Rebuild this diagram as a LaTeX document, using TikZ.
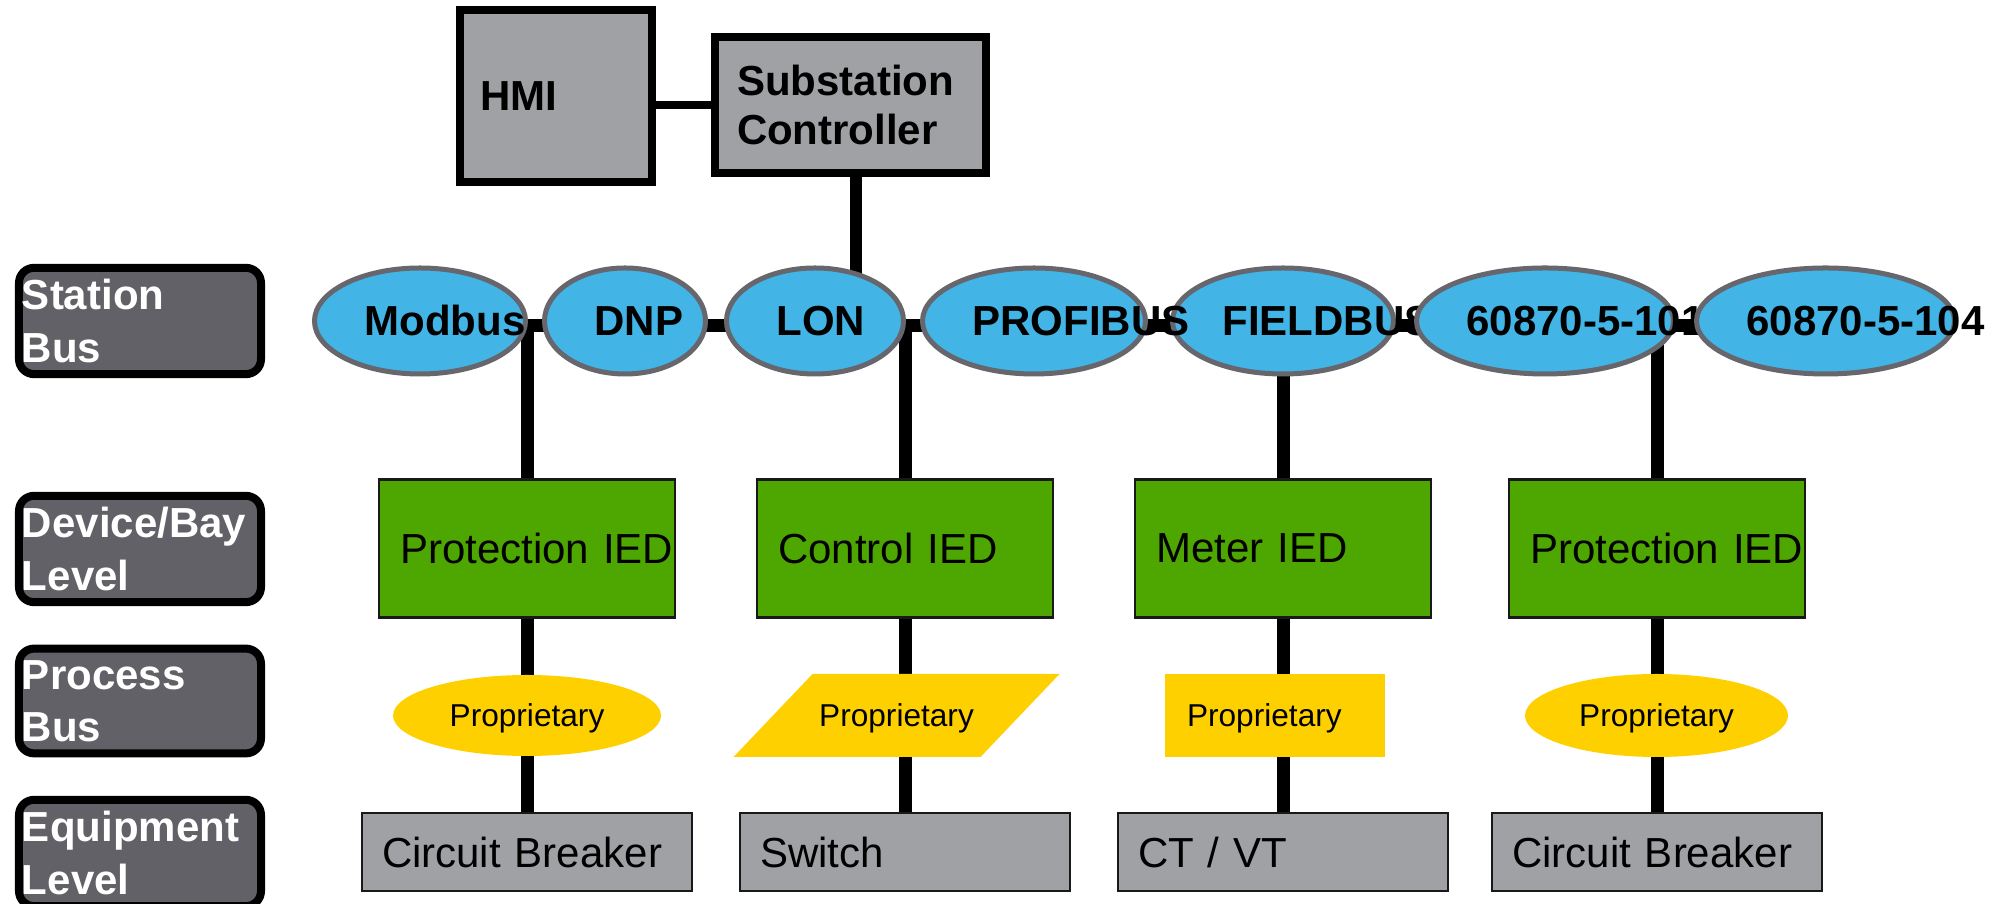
\documentclass[tikz,border=0pt]{standalone}
\usepackage{fontspec}
\setmainfont{Liberation Sans}
\usetikzlibrary{shapes.geometric,backgrounds}
\definecolor{ink}{gray}{0.10}
\definecolor{busblue}{RGB}{66,180,230}
\definecolor{busedge}{RGB}{102,102,108}
\definecolor{iedgreen}{RGB}{78,166,0}
\definecolor{pbyellow}{RGB}{255,208,0}
\definecolor{boxgray}{RGB}{160,161,165}
\definecolor{tagdark}{RGB}{97,97,103}

\begin{document}
\begin{tikzpicture}[font=\fontsize{11.95}{14.2}\selectfont,
  tag/.style={draw=black, line width=0.08cm, fill=tagdark, rounded corners=0.15cm, minimum width=2.42cm, minimum height=1.04cm, text width=2.36cm, inner xsep=0.03cm, align=left, text=white, font=\fontsize{11.95}{14.8}\selectfont\bfseries},
  unit/.style={draw=black, line width=0.08cm, fill=boxgray, align=left, font=\fontsize{11.95}{14.2}\selectfont\bfseries},
  busnode/.style={ellipse, draw=busedge, line width=0.05cm, fill=busblue, minimum height=1.06cm, inner sep=0pt, align=left, font=\fontsize{11.95}{14.2}\selectfont\bfseries},
  ied/.style={draw=ink, line width=0.025cm, fill=iedgreen, minimum width=2.96cm, minimum height=1.38cm, text width=2.54cm, inner xsep=0.21cm, align=left},
  prop/.style={fill=pbyellow, minimum height=0.83cm, inner sep=0pt, text depth=0pt, font=\fontsize{9}{11}\selectfont},
  equip/.style={draw=ink, line width=0.025cm, fill=boxgray, minimum width=3.3cm, minimum height=0.78cm, text width=2.9cm, inner xsep=0.2cm, align=left},
  wire/.style={line width=0.13cm}]
  \useasboundingbox (0,0) rectangle (20.15,9.04);

  \node[unit, minimum width=1.92cm, minimum height=1.72cm, text width=1.52cm, inner xsep=0.2cm] (HMI) at (5.56,8.08) {HMI};
  \node[unit, minimum width=2.71cm, minimum height=1.36cm, text width=2.27cm, inner xsep=0.22cm] (SC) at (8.505,7.99) {Substation\\Controller};

  \foreach \n/\y/\t in {tagStation/5.83/Station\\Bus, tagDevice/3.55/{Device/Bay\\Level}, tagProcess/2.03/Process\\Bus, tagEquip/0.51/Equipment\\Level}{
    \node[tag] (\n) at (1.40,\y) {\t};
  }

  \foreach \n/\x/\w/\t in {Modbus/4.20/2.11/Modbus, DNP/6.25/1.61/DNP, LON/8.15/1.77/LON, FIELDBUS/12.83/2.21/FIELDBUS, PROFIBUS/10.34/2.23/PROFIBUS, iec101/15.45/2.57/60870-5-101, iec104/18.255/2.58/60870-5-104}{
    \pgfmathsetmacro{\tw}{\w-1.0}
    \node[busnode, minimum width=\w cm, text width=\tw cm] (\n) at (\x,5.83) {\mbox{\t}};
  }

  \foreach \i/\x/\d/\e in {1/5.27/Protection~IED/Circuit Breaker, 2/9.05/Control IED/Switch, 3/12.83/Meter IED/{CT / VT}, 4/16.57/Protection~IED/Circuit Breaker}{
    \node[ied] (ied\i) at (\x,3.555) {\d};
    \node[equip] (eq\i) at (\x,0.52) {\e};
    \coordinate (tap\i) at (\x,5.78);
  }

  \node[prop, ellipse, minimum width=2.68cm, minimum height=0.81cm] (pb1) at (5.27,1.885) {Proprietary};
  \node[prop, trapezium, trapezium left angle=46.4, trapezium right angle=133.6, trapezium stretches body, text height=0.23cm, inner ysep=0.3cm, inner xsep=0.05cm, minimum width=3.26cm] (pb2) at (8.965,1.885) {Proprietary};
  \node[prop, minimum width=2.2cm, text width=1.76cm, inner xsep=0.22cm, align=left] (pb3) at (12.75,1.885) {Proprietary};
  \node[prop, ellipse, minimum width=2.63cm] (pb4) at (16.565,1.885) {Proprietary};

  \coordinate (sctap) at (8.56,5.78);
  \begin{scope}[on background layer]
    \draw[line width=0.08cm] (HMI.east |- SC.west) -- (SC.west);
    \draw[line width=0.12cm] (SC.south -| sctap) -- (sctap);
    \draw[wire] ([yshift=-0.05cm]Modbus.center) -- ([yshift=-0.05cm]iec104.center);
    \foreach \i in {1,...,4}{
      \draw[wire] (tap\i) -- (eq\i);
    }
  \end{scope}
\end{tikzpicture}
\end{document}
